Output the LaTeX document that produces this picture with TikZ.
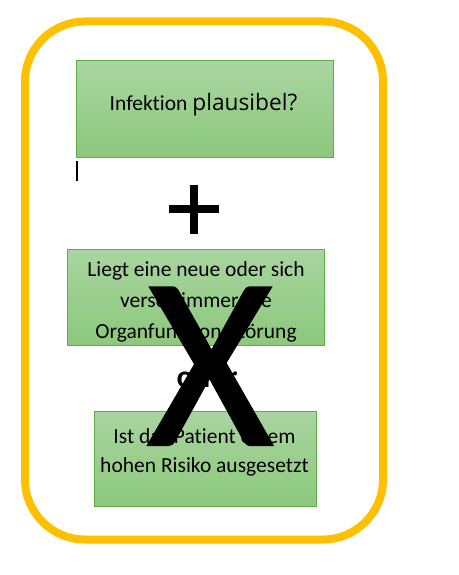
\documentclass[tikz,border=0pt]{standalone}
\usepackage{fontspec}
\setmainfont{Carlito}[Ligatures=CommonOff]
\newfontfamily\carlito{Carlito}[Ligatures=CommonOff]
\newfontfamily\carlitox{Carlito}[FakeBold=1]
\newfontfamily\opensans{Open Sans}
\definecolor{ygold}{HTML}{FFC000}
\definecolor{gtop}{HTML}{A9D5A0}
\definecolor{gbot}{HTML}{8CC87C}
\definecolor{gline}{HTML}{5FAE45}
\tikzset{
  gbox/.style={draw=gline, line width=1pt, top color=gtop, bottom color=gbot, inner sep=0pt},
  boxtxt/.style={anchor=base, inner sep=0pt, font=\carlito\fontsize{21.5}{30.5}\selectfont, text=black},
  frame/.style={draw=ygold, line width=8pt, rounded corners=60pt}
}
\begin{document}
\begin{tikzpicture}[x=1pt,y=-1pt]
\useasboundingbox (0,0) rectangle (458,575);
% yellow frame
\draw[frame] (25,21.5) rectangle (383,539.5);
% box 1
\path[gbox] (76,61) rectangle (333.5,157);
\node[boxtxt] (t1) at (203.5,110.5) {Infektion {\opensans\fontsize{22.7}{26}\selectfont plausibel?}};
% cursor
\coordinate (c1) at (77,161);
\coordinate (c2) at (77,181);
\draw[line width=1.2pt] (c1) -- (c2);
% plus
\coordinate (pt) at (194,185);
\coordinate (pb) at (194,234);
\coordinate (pl) at (169,209);
\coordinate (pr) at (219,209);
\draw[line width=8pt] (pt) -- (pb);
\draw[line width=8pt] (pl) -- (pr);
% box 2
\path[gbox] (67,249) rectangle (324,345);
\begin{scope}
\clip (67.5,249.5) rectangle (323.5,344.5);
\node[boxtxt] (t2a) at (196,276.5) {Liegt eine neue oder sich};
\node[boxtxt] (t2b) at (196,307.5) {verschlimmernde};
\node[boxtxt] (t2c) at (196,338) {Organfunktionsstörung};
\end{scope}
% oder
\node[anchor=base, inner sep=0pt, font=\carlito\bfseries\fontsize{31.5}{36}\selectfont] (oder) at (207,387) {oder};
% box 3
\path[gbox] (94,411) rectangle (316,506);
\node[boxtxt] (t3a) at (204.5,443) {Ist das Patient einem};
\node[boxtxt] (t3b) at (204.5,472) {hohen Risiko ausgesetzt};
% big X
\node[anchor=south west, inner sep=0pt] (bigx) at (147,445) {\resizebox{126pt}{157pt}{\carlitox X}};
\end{tikzpicture}
\end{document}
